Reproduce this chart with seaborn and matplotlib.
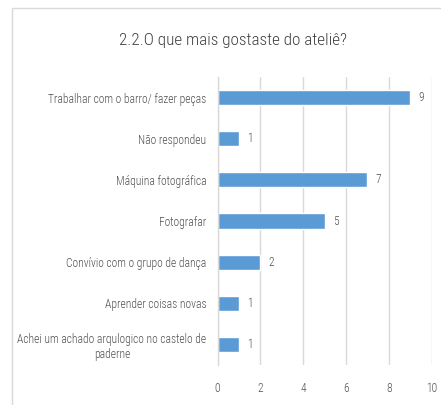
import matplotlib
matplotlib.use("Agg")
import matplotlib.pyplot as plt
import seaborn as sns
import pandas as pd
from matplotlib.patches import Rectangle

# ----------------------------
# Data
# ----------------------------
categories = [
    "Trabalhar com o barro/ fazer peças",
    "Não respondeu",
    "Máquina fotográfica",
    "Fotografar",
    "Convívio com o grupo de dança",
    "Aprender coisas novas",
    "Achei um achado arqulogico no castelo de\npaderne",
]
counts = [9, 1, 7, 5, 2, 1, 1]
x_ticks = [0, 2, 4, 6, 8, 10]
title = "2.2.O que mais gostaste do ateliê?"

df = pd.DataFrame({"categoria": categories, "n": counts})

# ----------------------------
# Style
# ----------------------------
sns.set_theme(style="white")
plt.rcParams['font.family'] = ['Roboto Condensed', 'DejaVu Sans']
plt.rcParams['font.weight'] = 'light'
text_col = "#505050"
grid_col = "#D9D9D9"
bar_col = "#5B9BD5"

fig = plt.figure(figsize=(4.41, 4.05), dpi=100)
fig.patch.set_facecolor("white")

# chart area border (like the spreadsheet frame)
fig.patches.append(Rectangle((12 / 441, -0.1), 1.2, 1.1 - 8 / 405,
                             transform=fig.transFigure, fill=False,
                             edgecolor=grid_col, linewidth=1.0))

ax = fig.add_axes([217.5 / 441, 40 / 405, 214.2 / 441, 288 / 405])

sns.barplot(data=df, x="n", y="categoria", orient="h", color=bar_col,
            width=0.37, saturation=1, ax=ax)

ax.set_xlim(0, 10)
ax.set_xticks(x_ticks)
ax.xaxis.grid(True, color=grid_col, linewidth=1.0)
ax.set_axisbelow(True)
for s in ["top", "right", "bottom"]:
    ax.spines[s].set_visible(False)
ax.spines["left"].set_color(grid_col)
ax.spines["left"].set_linewidth(1.0)

ax.set_xlabel("")
ax.set_ylabel("")
ax.tick_params(axis="both", length=0, labelsize=8.3, colors=text_col)
ax.tick_params(axis="x", pad=12)
ax.tick_params(axis="y", pad=8)
for lbl in ax.get_yticklabels():
    lbl.set_multialignment("center")

ax.bar_label(ax.containers[0], padding=6, fontsize=8.3, color=text_col)

fig.text(233 / 441, 1 - 40 / 405, title, ha="center", va="center",
         fontsize=12.3, color="#404040")

plt.savefig("out.png", dpi=100)
